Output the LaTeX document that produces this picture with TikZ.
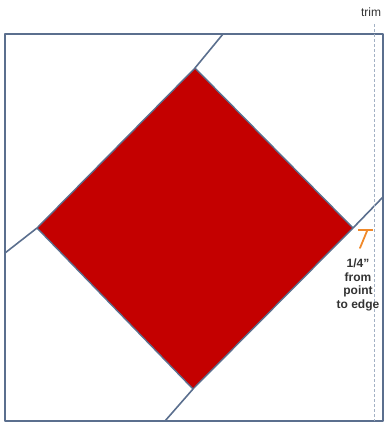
\documentclass[tikz,border=0pt]{standalone}
\usepackage{fontspec}
\setmainfont{Liberation Sans}
\usetikzlibrary{positioning}
\definecolor{pizarra}{HTML}{5B6F8E}
\definecolor{rojo}{HTML}{C40000}
\definecolor{naranja}{HTML}{F0892A}
\definecolor{corte}{HTML}{A3B1C4}

\begin{document}
\begin{tikzpicture}[x=1pt, y=-1pt, line join=round,
      borde/.style={draw=pizarra, line width=2.2pt},
      guia/.style={draw=pizarra, line width=1.6pt},
      txt/.style={font=\fontsize{12}{13.8}\selectfont\bfseries, text=black!80, inner sep=0pt, align=center}]
    \useasboundingbox (0,0) rectangle (385,425);
    % bloque exterior
    \draw[borde] (5,34) rectangle (383,421);
    % cuadro rojo en punta
    \coordinate (izq) at (37,228);
    \coordinate (arr) at (195,68);
    \coordinate (der) at (353,228);
    \coordinate (aba) at (193,389);
    \filldraw[fill=rojo, draw=pizarra, line width=1.4pt] (izq) -- (arr) -- (der) -- (aba) -- cycle;
    % esquinas cortadas
    \coordinate (bi) at (5,253);  \coordinate (bs) at (223,34);
    \coordinate (bd) at (383,197); \coordinate (bb) at (165,421);
    \draw[guia] (bi) -- (izq); \draw[guia] (arr) -- (bs);
    \draw[guia] (der) -- (bd); \draw[guia] (aba) -- (bb);
    % linea de corte
    \node[txt, font=\fontsize{12}{13.8}\selectfont, anchor=base] (trim) at (371,17) {trim};
    \coordinate (ct) at (374,24); \coordinate (cb) at (374,421);
    \draw[corte, densely dashed, line width=0.9pt] (ct) -- (cb);
    % marca de 1/4"
    \coordinate (m1) at (358,230); \coordinate (m2) at (373,230);
    \coordinate (m3) at (367,231); \coordinate (m4) at (360,248);
    \draw[naranja, line width=1.8pt] (m1) -- (m2);
    \draw[naranja, line width=1.8pt, line cap=round] (m3) -- (m4);
    \node[txt, anchor=north] (nota) at (358,258.5) {1/4"\\from\\point\\to edge};
  \end{tikzpicture}
\end{document}
